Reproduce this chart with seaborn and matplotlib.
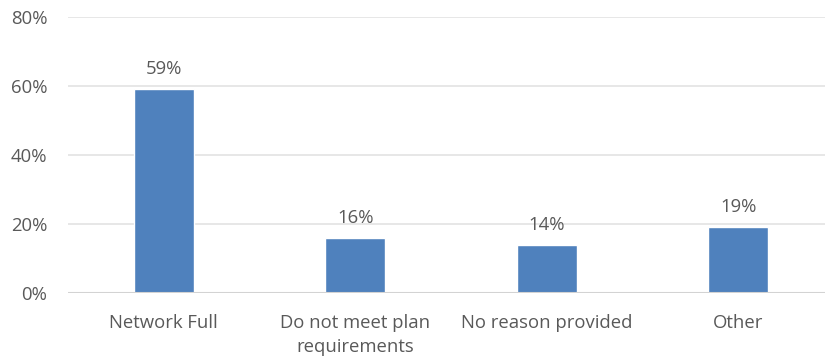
import matplotlib
matplotlib.use("Agg")
import matplotlib.pyplot as plt
import seaborn as sns
import pandas as pd

categories = ["Network Full", "Do not meet plan\nrequirements", "No reason provided", "Other"]
values = [59, 16, 14, 19]
yticks = [0, 20, 40, 60, 80]
ytick_labels = ["0%", "20%", "40%", "60%", "80%"]

sns.set_theme(style="white")
plt.rcParams['font.family'] = ['Open Sans', 'DejaVu Sans']

df = pd.DataFrame({"cat": categories, "val": values})
fig = plt.figure(figsize=(8.25, 3.58), dpi=100)
ax = fig.add_axes([68/825, 1 - 293/358, (834 - 68)/825, (293 - 17)/358])
sns.barplot(data=df, x="cat", y="val", color="#4F81BD", saturation=1, width=0.313, ax=ax, zorder=3)
ax.set_xlim(-0.5, 3.5)
ax.set_ylim(0, 80)
ax.set_yticks(yticks)
ax.set_yticklabels(ytick_labels)
ax.grid(axis="y", color="#E3E3E3", linewidth=1.2, zorder=0)
for s in ax.spines.values():
    s.set_visible(False)
ax.axhline(0, color="#D3D3D3", linewidth=1.5, zorder=4)
ax.set_xlabel("")
ax.set_ylabel("")
ax.tick_params(axis="both", length=0, labelsize=13.3, colors="#595959")
ax.tick_params(axis="x", pad=15)
ax.tick_params(axis="y", pad=15)
for lbl in ax.get_xticklabels():
    lbl.set_linespacing(1.45)
for c in ax.containers:
    ax.bar_label(c, labels=[f"{v}%" for v in values], padding=8, fontsize=13.3, color="#595959")
fig.savefig("out.png", dpi=100)
